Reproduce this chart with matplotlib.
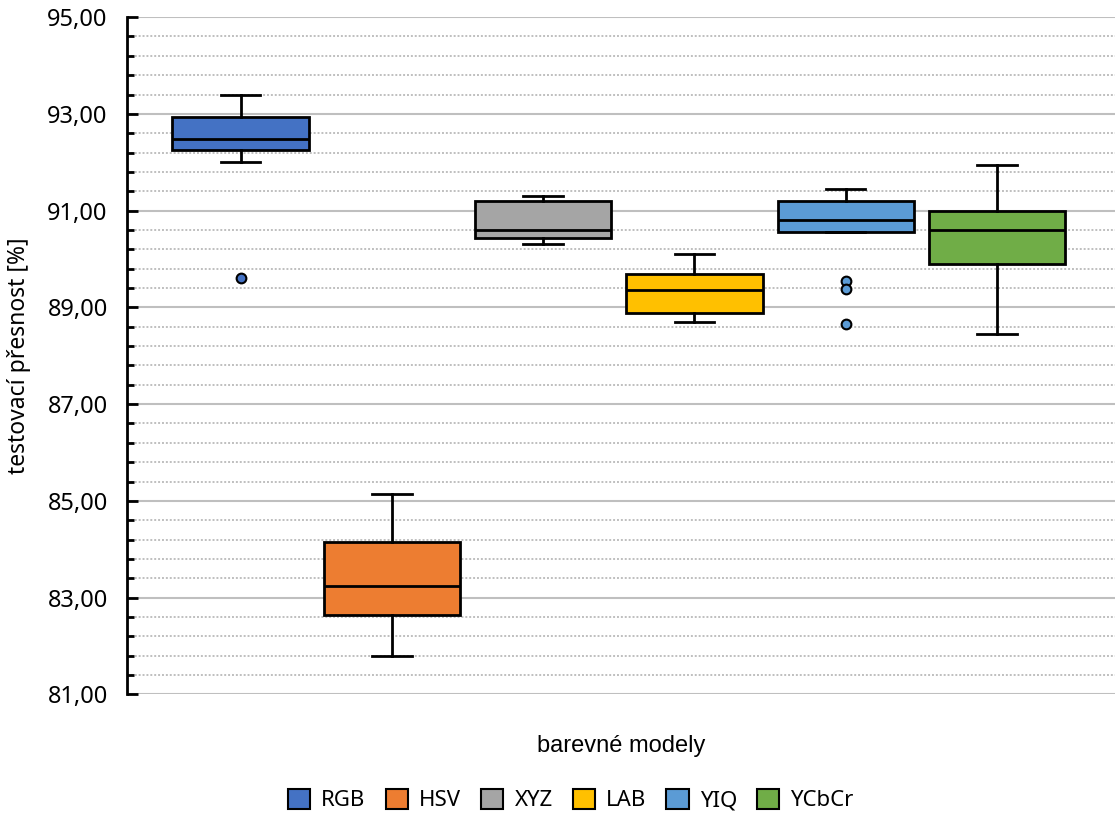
import matplotlib
matplotlib.use("Agg")
import matplotlib.pyplot as plt
import numpy as np
from matplotlib.patches import Patch
from matplotlib.ticker import FixedLocator, FuncFormatter

plt.rcParams['font.family'] = ['Noto Sans', 'DejaVu Sans']

# barevné modely a statistiky boxplotu (testovací přesnost v %)
modely = ['RGB', 'HSV', 'XYZ', 'LAB', 'YIQ', 'YCbCr']
barvy = ['#4472C4', '#ED7D31', '#A5A5A5', '#FFC000', '#5B9BD5', '#70AD47']
whisker_low = [92.00, 81.80, 90.31, 88.70, 90.55, 88.45]
q1 = [92.25, 82.65, 90.44, 88.89, 90.55, 89.90]
median = [92.49, 83.24, 90.60, 89.35, 90.80, 90.60]
q3 = [92.94, 84.15, 91.20, 89.69, 91.20, 91.00]
whisker_high = [93.39, 85.15, 91.30, 90.11, 91.45, 91.95]
outliers = [[89.60], [], [], [], [89.55, 89.37, 88.65], []]

stats = []
for i in range(len(modely)):
    stats.append({'label': modely[i], 'whislo': whisker_low[i], 'q1': q1[i],
                  'med': median[i], 'q3': q3[i], 'whishi': whisker_high[i],
                  'fliers': outliers[i]})

fig = plt.figure(figsize=(11.15, 8.15), dpi=100)
ax = fig.add_axes([0.114, 0.148, 0.886, 0.831])

pos = list(range(1, len(modely) + 1))
bp = ax.bxp(stats, positions=pos, widths=0.9, patch_artist=True,
            showfliers=True,
            boxprops=dict(edgecolor='black', linewidth=2),
            medianprops=dict(color='black', linewidth=2),
            whiskerprops=dict(color='black', linewidth=2),
            capprops=dict(color='black', linewidth=2),
            capwidths=0.26)
for i, box in enumerate(bp['boxes']):
    box.set_facecolor(barvy[i])
    box.set_zorder(3)
for i, fl in enumerate(bp['fliers']):
    fl.set(marker='o', markerfacecolor=barvy[i], markeredgecolor='black',
           markersize=7, markeredgewidth=1.5)
for k in ('medians', 'whiskers', 'caps', 'fliers'):
    for a in bp[k]:
        a.set_zorder(4)

ax.set_ylim(81, 95)
ax.set_xlim(0.25, 6.78)
ax.yaxis.set_major_locator(FixedLocator(np.arange(81, 95.1, 2)))
ax.yaxis.set_minor_locator(FixedLocator(np.arange(81, 95.01, 0.4)))
ax.yaxis.set_major_formatter(FuncFormatter(lambda v, p: f'{v:.2f}'.replace('.', ',')))
ax.grid(axis='y', which='major', color='#BFBFBF', linewidth=1.5, zorder=0)
ax.grid(axis='y', which='minor', color='#BFBFBF', linewidth=1.4,
        linestyle=(0, (1.0, 1.0)), zorder=0)
ax.set_axisbelow(True)

for s in ('top', 'right', 'bottom'):
    ax.spines[s].set_visible(False)
ax.spines['left'].set_linewidth(2)
ax.tick_params(axis='y', which='major', direction='in', length=8, width=2,
               labelsize=17, pad=14)
ax.tick_params(axis='y', which='minor', direction='in', length=5, width=2)
ax.tick_params(axis='x', bottom=False, labelbottom=False)

ax.set_ylabel('testovací přesnost [%]', fontsize=16.5, labelpad=12)
ax.set_xlabel('barevné modely', fontsize=17, labelpad=29,
              family=['Liberation Sans', 'DejaVu Sans'])

handles = [Patch(facecolor=barvy[i], edgecolor='black', linewidth=1.5, label=modely[i])
           for i in range(len(modely))]
fig.legend(handles=handles, loc='lower center', bbox_to_anchor=(0.512, -0.02),
           ncol=6, frameon=False, fontsize=16, handlelength=1.0, handleheight=1.0,
           handletextpad=0.5, columnspacing=0.9)

fig.savefig('out.png', dpi=100)
